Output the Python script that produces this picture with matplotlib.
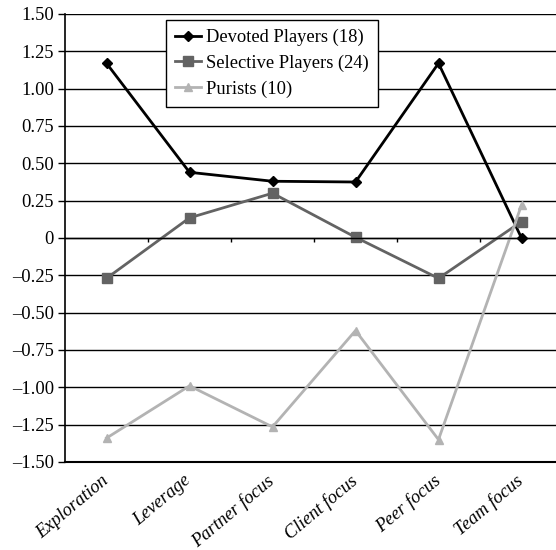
import matplotlib
matplotlib.use("Agg")
import matplotlib.pyplot as plt
import matplotlib.transforms as mtransforms
import numpy as np

categories = ["Exploration", "Leverage", "Partner focus", "Client focus", "Peer focus", "Team focus"]
devoted = [1.17, 0.44, 0.38, 0.375, 1.17, 0.0]
selective = [-0.27, 0.135, 0.30, 0.005, -0.27, 0.11]
purists = [-1.34, -0.99, -1.265, -0.62, -1.35, 0.22]
yticks = [1.5, 1.25, 1.0, 0.75, 0.5, 0.25, 0, -0.25, -0.5, -0.75, -1.0, -1.25, -1.5]

plt.rcParams['font.family'] = ['Liberation Serif', 'DejaVu Serif']

fig = plt.figure(figsize=(5.56, 5.50), dpi=100)
ax = fig.add_axes([65 / 556, 88 / 550, 498 / 556, 448 / 550])

x = np.arange(len(categories))
ax.plot(x, devoted, color="black", lw=2, marker="D", ms=5, label="Devoted Players (18)")
ax.plot(x, selective, color="#636363", lw=2, marker="s", ms=7, label="Selective Players (24)")
ax.plot(x, purists, color="#b3b3b3", lw=2, marker="^", ms=6, label="Purists (10)")

ax.set_xlim(-0.5, len(categories) - 0.5)
ax.set_ylim(-1.5, 1.5)

def fmt(v):
    if v == 0:
        return "0"
    return ("%.2f" % v).replace("-", "\u2013")

ax.set_yticks(yticks)
ax.set_yticklabels([fmt(v) for v in yticks], fontsize=13.3)
ax.yaxis.grid(True, color="black", lw=1)
ax.set_axisbelow(True)
ax.tick_params(axis="y", length=5, width=1, color="black", pad=3)

ax.set_xticks(x)
ax.set_xticklabels(categories, rotation=40, ha="right", rotation_mode="anchor",
                   fontsize=13.3, style="italic")
ax.tick_params(axis="x", length=0, pad=7)
shift = mtransforms.ScaledTranslation(-6 / 100, 0, fig.dpi_scale_trans)
for lab in ax.get_xticklabels():
    lab.set_transform(lab.get_transform() + shift)

# category separator ticks on the zero line
ax.vlines(x[1:] - 0.5, -0.03, 0, color="black", lw=1)
ax.axhline(0, color="black", lw=1)

for s in ["top", "right"]:
    ax.spines[s].set_visible(False)
ax.spines["left"].set_linewidth(1.2)
ax.spines["bottom"].set_linewidth(1.5)

leg = ax.legend(loc="upper left", bbox_to_anchor=(0.203, 0.987), borderaxespad=0,
                fontsize=13.3, frameon=True, fancybox=False, edgecolor="black",
                framealpha=1, handlelength=1.4, borderpad=0.5, labelspacing=0.45,
                handletextpad=0.25)
leg.get_frame().set_linewidth(1)

fig.savefig("out.png", dpi=100)
